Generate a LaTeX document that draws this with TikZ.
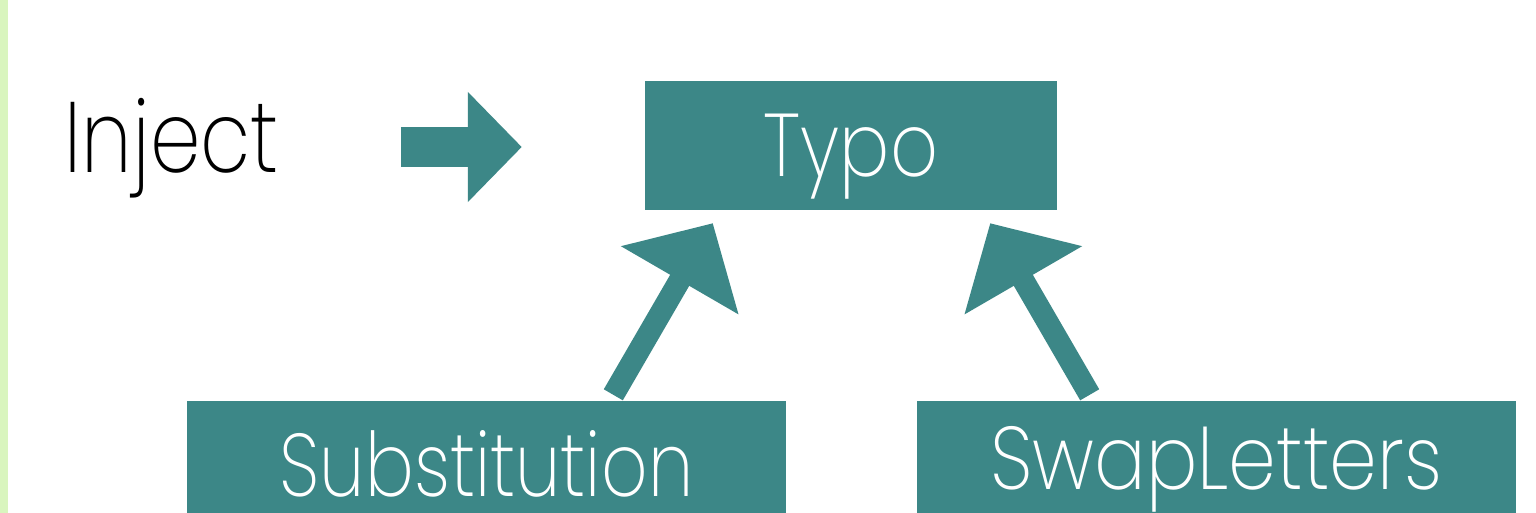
\documentclass[tikz,border=0pt]{standalone}
\usepackage{fontspec}
\setmainfont{Poppins}[UprightFont=* ExtraLight]
\usetikzlibrary{arrows.meta,calc}
\definecolor{teal1}{HTML}{3C8787}
\definecolor{lime1}{HTML}{D9F5BE}
\tikzset{
  box/.style={fill=teal1, draw=none, inner sep=0pt, text=white, font=\fontsize{89}{89}\selectfont, text depth=0pt},
  bigarrow/.style={draw=teal1, line width=22pt, -{Triangle[width=132pt,length=66pt]}},
  injarrow/.style={draw=teal1, line width=40pt, -{Triangle[width=107pt,length=54pt]}},
}
\begin{document}
\begin{tikzpicture}[x=1pt,y=1pt]
\useasboundingbox (0,0) rectangle (1536,-513);
\fill[white] (0,0) rectangle (1536,-513);
\fill[lime1] (0,0) rectangle (8,-513);
\node[box, text height=62pt, minimum width=412pt, minimum height=129pt] (typo) at (851,-145.5) {\scalebox{0.84}[1]{Typo}};
\node[box, text height=79pt, minimum width=599pt, minimum height=112pt] (sub) at (486.5,-457) {\scalebox{0.815}[1]{Substitution}};
\node[box, text height=65pt, minimum width=599pt, minimum height=112pt] (swap) at (1216.5,-457) {\scalebox{0.86}[1]{SwapLetters}};
\node[inner sep=0pt, font=\fontsize{100}{100}\selectfont, text height=70pt, text depth=0pt] (inject) at (172,-138) {\scalebox{0.81}[1]{Inject}};
\draw[injarrow] ($(typo.west)+(-244,-1.5)$) -- ($(typo.west)+(-123,-1.5)$);
\draw[bigarrow] ($(sub.north west)+(426.5,6)$) -- ($(typo.south west)+(68,-13)$);
\draw[bigarrow] ($(swap.north east)+(-426.5,6)$) -- ($(typo.south east)+(-67,-13)$);
\end{tikzpicture}
\end{document}
